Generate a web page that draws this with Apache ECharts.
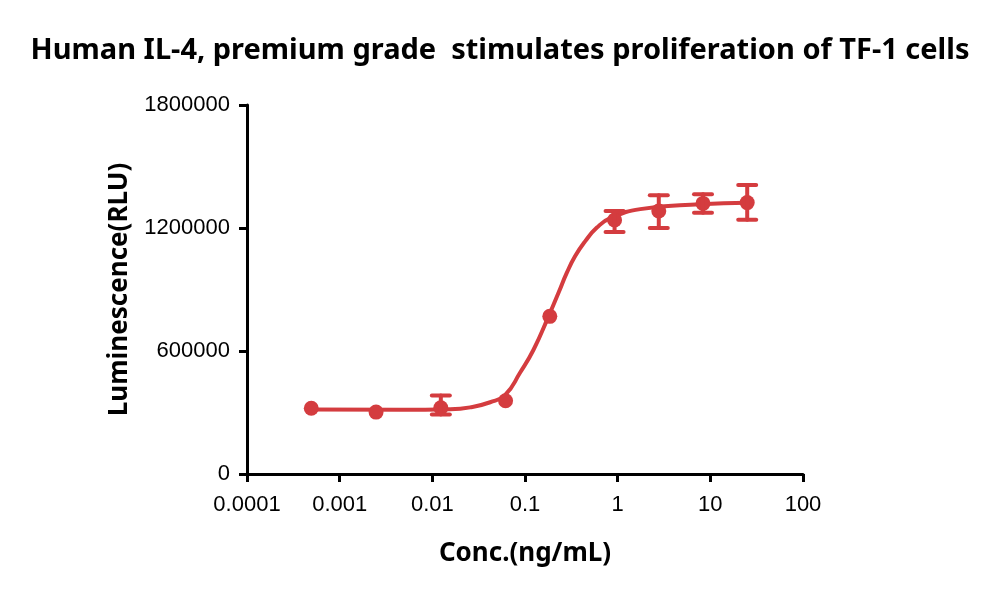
<!DOCTYPE html>
<html>
<head>
<meta charset="utf-8">
<script src="https://cdn.jsdelivr.net/npm/echarts@6/dist/echarts.min.js"></script>
<style>
  html, body { margin: 0; padding: 0; background: #fff; }
  #chart { width: 1000px; height: 591px; }
</style>
</head>
<body>
<div id="chart"></div>
<script>
// measured points (mean, error bar low/high), conc in ng/mL
var conc = [0.000494, 0.00247, 0.01235, 0.0617, 0.1852, 0.9259, 2.778, 8.333, 25];
var meanRLU = [321000, 302000, 323000, 357000, 769000, 1239000, 1283000, 1320000, 1324000];
var errLow = [321000, 302000, 290000, 357000, 769000, 1180000, 1200000, 1275000, 1240000];
var errHigh = [321000, 302000, 383000, 357000, 769000, 1283000, 1360000, 1365000, 1410000];

// fitted curve
var fitConc = [0.000494, 0.00449, 0.01556, 0.0256, 0.0421, 0.0611, 0.0887, 0.1236, 0.1795, 0.230, 0.283, 0.348, 0.447, 0.597, 0.832, 1.754, 7.80, 25];
var fitRLU = [315000, 313000, 315500, 325000, 350000, 386000, 495000, 606000, 769000, 884000, 982000, 1063000, 1136000, 1202000, 1248000, 1292000, 1316000, 1323000];

var xTicks = ['0.0001', '0.001', '0.01', '0.1', '1', '10', '100'];
var yTicks = ['0', '600000', '1200000', '1800000'];

var red = '#d43c3f';

var chart = echarts.init(document.getElementById('chart'));

chart.setOption({
  animation: false,
  title: {
    text: 'Human IL-4, premium grade  stimulates proliferation of TF-1 cells',
    left: 'center',
    top: 31,
    textStyle: {
      fontFamily: 'Noto Sans',
      fontWeight: 'bold',
      fontSize: 29,
      color: '#000'
    }
  },
  grid: {
    left: 247,
    right: 197,
    top: 105,
    bottom: 117
  },
  xAxis: {
    type: 'log',
    logBase: 10,
    min: 0.0001,
    max: 100,
    name: 'Conc.(ng/mL)',
    nameLocation: 'middle',
    nameGap: 67,
    nameTextStyle: {
      fontFamily: 'Noto Sans',
      fontWeight: 'bold',
      fontSize: 26,
      color: '#000'
    },
    splitLine: { show: false },
    minorTick: { show: false },
    axisLine: { lineStyle: { color: '#000', width: 3 } },
    axisTick: { length: 8, lineStyle: { color: '#000', width: 3 } },
    axisLabel: {
      margin: 20,
      fontFamily: 'Liberation Sans',
      fontSize: 22,
      color: '#000',
      formatter: function (v) {
        var i = Math.round(Math.log10(v)) + 4;
        return xTicks[i] || '';
      }
    }
  },
  yAxis: {
    type: 'value',
    min: 0,
    max: 1800000,
    interval: 600000,
    name: 'Luminescence(RLU)',
    nameLocation: 'middle',
    nameGap: 114,
    nameTextStyle: {
      fontFamily: 'Noto Sans',
      fontWeight: 'bold',
      fontSize: 26,
      color: '#000'
    },
    splitLine: { show: false },
    axisLine: { show: true, lineStyle: { color: '#000', width: 3 } },
    axisTick: { show: true, length: 8, lineStyle: { color: '#000', width: 3 } },
    axisLabel: {
      margin: 17,
      fontFamily: 'Liberation Sans',
      fontSize: 22,
      color: '#000',
      formatter: function (v) {
        return yTicks[Math.round(v / 600000)];
      }
    }
  },
  series: [{
    name: 'fit',
    type: 'line',
    smooth: 0.5,
    showSymbol: false,
    lineStyle: { color: red, width: 4 },
    data: fitConc.map(function (c, i) { return [c, fitRLU[i]]; }),
    z: 2
  }, {
    name: 'points',
    type: 'scatter',
    symbolSize: 15,
    itemStyle: { color: red, opacity: 1 },
    data: conc.map(function (c, i) { return [c, meanRLU[i]]; }),
    z: 3
  }, {
    name: 'error',
    type: 'custom',
    renderItem: function (params, api) {
      var x = api.value(0);
      var top = api.coord([x, api.value(2)]);
      var bot = api.coord([x, api.value(1)]);
      if (Math.abs(top[1] - bot[1]) < 1) return null;
      var w = 9;
      var st = { stroke: red, lineWidth: 4, lineCap: 'round' };
      return {
        type: 'group',
        children: [
          { type: 'line', shape: { x1: top[0], y1: top[1], x2: bot[0], y2: bot[1] }, style: st },
          { type: 'line', shape: { x1: top[0] - w, y1: top[1], x2: top[0] + w, y2: top[1] }, style: st },
          { type: 'line', shape: { x1: bot[0] - w, y1: bot[1], x2: bot[0] + w, y2: bot[1] }, style: st }
        ]
      };
    },
    data: conc.map(function (c, i) { return [c, errLow[i], errHigh[i]]; }),
    z: 4
  }]
});
</script>
</body>
</html>
